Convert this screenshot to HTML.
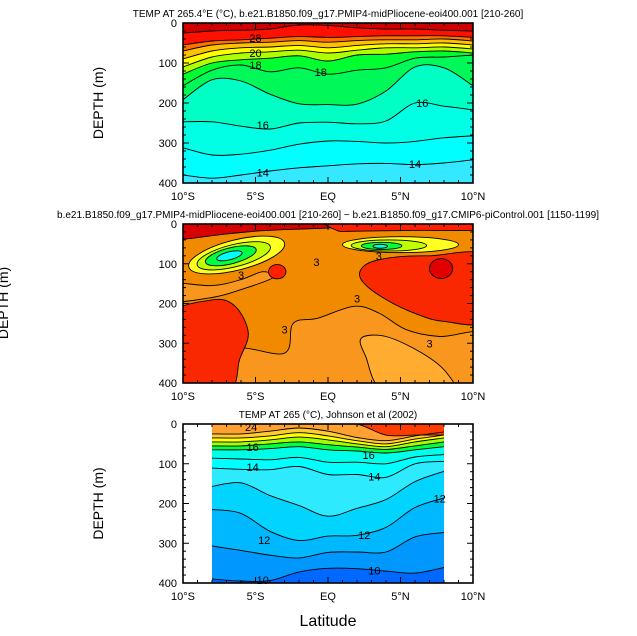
<!DOCTYPE html>
<html><head><meta charset="utf-8">
<style>
html,body{margin:0;padding:0;background:#fff;}
svg{display:block;font-family:"Liberation Sans",sans-serif;}
</style></head>
<body>
<svg id="chart" width="637" height="636" viewBox="0 0 637 636" xmlns="http://www.w3.org/2000/svg">
<defs>
<clipPath id="c1"><rect x="183" y="23" width="290" height="160"/></clipPath>
<clipPath id="c2"><rect x="183" y="224" width="290" height="159"/></clipPath>
<clipPath id="c3"><rect x="183" y="424" width="290" height="159"/></clipPath>
</defs>
</svg>
<script>
// ---------- data ----------
const lats1 = [-10,-8,-6,-4,-2,0,2,4,6,8,10];
const p1Levels = [14,15,16,17,18,19,20,22,24,26,28];
const p1Depths = [
 [380,388,380,370,362,357,352,351,354,350,342],
 [312,330,328,318,303,295,296,300,296,287,282],
 [247,247,258,265,250,248,252,245,200,208,217],
 [192,142,145,178,202,204,203,170,110,112,157],
 [157,118,105,122,112,128,118,112,88,85,80],
 [128,100,92,88,82,95,80,78,72,70,75],
 [110,85,75,72,68,75,68,62,62,60,65],
 [90,70,62,60,56,62,56,52,52,50,55],
 [70,55,50,48,44,48,44,42,42,40,45],
 [55,45,42,38,34,36,34,32,32,32,36],
 [25,20,18,15,5,6,12,15,15,18,20]
];
const p1Colors = ['#00ffff','#00ffe4','#00ffc4','#00f858','#00ff30','#b0ff00','#ffff00','#ffc000','#ff7000','#ff1000','#d00000'];
const p1Base = '#33e8ff';
const p1LabelVals = ['14','14','16','16','18','18','20','28'];
const p1LabelPos = [[-4.5,374],[6,352],[-4.5,255],[6.5,200],[-5,105],[-0.5,123],[-5,75],[-5,38]];

const lats3 = [-8,-6,-4,-2,0,2,4,6,8];
const p3Levels = [10,11,12,13,14,15,16,18,20,22,24,26];
const p3Depths = [
 [390,395,394,372,363,364,370,375,361],
 [307,318,330,337,323,322,322,284,273],
 [215,225,270,293,282,280,260,210,186],
 [157,148,180,205,232,212,190,145,119],
 [111,114,115,107,127,127,134,100,94],
 [86,88,90,84,96,96,100,83,77],
 [65,65,62,57,65,68,73,65,57],
 [55,55,50,45,52,58,64,55,45],
 [45,45,40,33,40,50,57,45,35],
 [35,35,30,22,30,42,50,38,28],
 [25,25,18,10,18,34,42,30,20],
 [0,0,0,0,0,0,28,28,28]
];
const p3Colors = ['#0098ff','#00b8ff','#00d4ff','#2eeaff','#00ffff','#00ffe8','#00ff40','#a0ff00','#ffff00','#ffcc30','#ffa030','#ff3c00'];
const p3Base = '#0068ff';
const p3LabelVals = ['10','10','12','12','12','14','14','16','16','24'];
const p3LabelPos = [[-4.5,393],[3.2,368],[-4.4,292],[2.5,279],[7.7,188],[-5.2,108],[3.2,132],[-5.2,58],[2.8,78],[-5.3,8]];

// panel 2 anomaly regions [lat, depth]
const p2Base = '#f28a00';
const p2TopLeft = [[-11,-10],[0.6,-10],[0.6,8],[-3,14],[-5,18],[-7,25],[-11,38]];
const p2TopRight = [[0.6,-10],[11,-10],[11,14],[6,16],[2,18],[0.6,16]];
const p2LightMid = [[-6.9,420],[-6.4,316],[-3,325],[-2.4,250],[-0.7,237],[1.8,207],[3.5,224],[5.4,266],[7.7,283],[11,279],[11,420]];
const p2Lightest = [[2.3,287],[4,283],[6.5,325],[8.2,375],[8.4,420],[3.9,420],[2.6,333]];
const p2LeftBand = [[-11,150],[-8,155],[-6,140],[-4.5,120],[-3.8,135],[-6,165],[-8,185],[-11,195]];
const p2RedRight = [[2.2,120],[3,95],[5,82],[7,80],[11,82],[11,240],[8,245],[6,225],[4,190],[2.5,150]];
const p2RedLeft = [[-11,237],[-8,191],[-6.4,207],[-5.5,274],[-6.1,341],[-6.9,420],[-11,420]];
const p2BlobCenters = [[-6.3,78],[-6.5,80],[-6.7,80],[-6.8,80],[5,52],[4.2,54],[3.7,55],[3.6,56],[-3.5,120],[7.8,112]];
const p2BlobSizes = [[3.4,38],[2.6,28],[1.8,20],[0.9,10],[4,20],[2.6,14],[1.4,9],[0.5,5],[0.6,18],[0.8,25]];
const p2BlobColors = ['#ffff20','#c0ff00','#00ff40','#00ffff','#ffff20','#c0ff00','#00ff40','#00ffcc','#ff2000','#e00000'];
const p2BlobRot = [-14,-14,-14,-14,0,0,0,0,0,0];

const xTickVals = [-10,-5,0,5,10];
const xTickLabels = ['10°S','5°S','EQ','5°N','10°N'];
const yTickVals = [0,100,200,300,400];

// ---------- drawing ----------
const svg = document.getElementById('chart');
const NS = 'http://www.w3.org/2000/svg';
function mk(tag, attrs, parent){const e=document.createElementNS(NS,tag);for(const k in attrs)e.setAttribute(k,attrs[k]);(parent||svg).appendChild(e);return e;}
function axisX(p,lat){return p.x0+(lat+10)/20*(p.x1-p.x0);}
function axisY(p,d){return p.y0+d/400*(p.y1-p.y0);}
function smooth(pts,closed){
  if(pts.length<2)return '';
  let s='M'+pts[0][0].toFixed(1)+','+pts[0][1].toFixed(1);
  const n=pts.length;
  for(let i=0;i<(closed?n:n-1);i++){
    const p0=pts[(i-1+n)%n],p1=pts[i],p2=pts[(i+1)%n],p3=pts[(i+2)%n];
    const a=closed||i>0?p0:p1, b=closed||i<n-2?p3:p2;
    const c1=[p1[0]+(p2[0]-a[0])/6,p1[1]+(p2[1]-a[1])/6];
    const c2=[p2[0]-(b[0]-p1[0])/6,p2[1]-(b[1]-p1[1])/6];
    s+='C'+c1[0].toFixed(1)+','+c1[1].toFixed(1)+' '+c2[0].toFixed(1)+','+c2[1].toFixed(1)+' '+p2[0].toFixed(1)+','+p2[1].toFixed(1);
  }
  return s+(closed?'Z':'');
}
const P1={x0:183,x1:473,y0:23,y1:183};
const P2={x0:183,x1:473,y0:224,y1:383};
const P3={x0:183,x1:473,y0:424,y1:583};

function bandPanel(p,lats,depths,colors,base,name,clip){
  const g=mk('g',{'clip-path':'url(#'+clip+')'});
  
  
  const xa=axisX(p,lats[0]), xb=axisX(p,lats[lats.length-1]);
  const bg=mk('rect',{x:xa,y:p.y0,width:xb-xa,height:p.y1-p.y0,fill:base},g);
  
  
  for(let k=0;k<depths.length;k++){
    const pts=lats.map((la,i)=>[axisX(p,la),axisY(p,depths[k][i])]);
    const line=smooth(pts,false);
    const path=mk('path',{d:'M'+xa+','+p.y0+' L'+pts[0][0]+','+pts[0][1]+line.replace(/^M[^C]*/,'')+' L'+xb+','+p.y0+'Z',fill:colors[k]},g);
    
    
  }
  for(let k=0;k<depths.length;k++){
    const pts=lats.map((la,i)=>[axisX(p,la),axisY(p,depths[k][i])]);
    const c=mk('path',{d:smooth(pts,false),fill:'none',stroke:'#000','stroke-width':0.9},g);
    
    
  }
}
function addLabels(p,vals,pos,name){
  vals.forEach((v,i)=>{
    const t=mk('text',{x:axisX(p,pos[i][0]),y:axisY(p,pos[i][1])+4,'font-size':11,'text-anchor':'middle',fill:'#000'});
    t.textContent=v;
    
    
  });
}
function poly(p,pts,fill,name,parent){
  const e=mk('path',{d:smooth(pts.map(q=>[axisX(p,q[0]),axisY(p,q[1])]),true),fill:fill,stroke:'#000','stroke-width':0.9},parent);
  
  
}
function axes(p,name,title,titleX,ylabel){
  const g=mk('g',{});
  
  
  for(let la=-10;la<=10;la++){
    const x=axisX(p,la), L=(la%5===0)?6:3;
    mk('line',{x1:x,y1:p.y0,x2:x,y2:p.y0+L,stroke:'#000','stroke-width':1},g);
    mk('line',{x1:x,y1:p.y1,x2:x,y2:p.y1-L,stroke:'#000','stroke-width':1},g);
  }
  for(let d=0;d<=400;d+=20){
    const y=axisY(p,d), L=(d%100===0)?6:3;
    mk('line',{x1:p.x0,y1:y,x2:p.x0+L,y2:y,stroke:'#000','stroke-width':1},g);
    mk('line',{x1:p.x1,y1:y,x2:p.x1-L,y2:y,stroke:'#000','stroke-width':1},g);
  }
  const fr=mk('rect',{x:p.x0,y:p.y0,width:p.x1-p.x0,height:p.y1-p.y0,fill:'none',stroke:'#000','stroke-width':1.6},g);
  
  
  xTickVals.forEach((v,i)=>{
    const t=mk('text',{x:axisX(p,v),y:p.y1+17,'font-size':11,'text-anchor':'middle'},g);
    t.textContent=xTickLabels[i];
    
    
  });
  yTickVals.forEach(v=>{
    const t=mk('text',{x:p.x0-6,y:axisY(p,v)+4,'font-size':11,'text-anchor':'end'},g);
    t.textContent=String(v);
    
    
  });
  const tt=mk('text',{x:titleX,y:p.y0-6,'font-size':10,'text-anchor':'middle'},g);
  tt.textContent=title;
  
  
  if(ylabel){
    const yl=mk('text',{x:0,y:0,'font-size':14,'text-anchor':'middle',transform:'translate('+ylabel+','+((p.y0+p.y1)/2)+') rotate(-90)'},g);
    yl.textContent='DEPTH (m)';
    
    
  }
}

// Panel 1
bandPanel(P1,lats1,p1Depths,p1Colors,p1Base,'panel1','c1');
addLabels(P1,p1LabelVals,p1LabelPos,'panel1');
axes(P1,'panel1','TEMP AT 265.4°E (°C), b.e21.B1850.f09_g17.PMIP4-midPliocene-eoi400.001 [210-260]',328,103);

// Panel 2
const g2=mk('g',{'clip-path':'url(#c2)'});


const bg2=mk('rect',{x:P2.x0,y:P2.y0,width:P2.x1-P2.x0,height:P2.y1-P2.y0,fill:p2Base},g2);


poly(P2,p2LightMid,'#f8961e','panel2-light-region',g2);
poly(P2,p2Lightest,'#ffac30','panel2-lightest-region',g2);
poly(P2,p2LeftBand,'#f8961e','panel2-left-band',g2);
poly(P2,p2RedLeft,'#fa2800','panel2-red-left',g2);
poly(P2,p2RedRight,'#fa2800','panel2-red-right',g2);
poly(P2,p2TopLeft,'#d80000','panel2-top-darkred',g2);
poly(P2,p2TopRight,'#ff1e00','panel2-top-red',g2);
p2BlobCenters.forEach((c,i)=>{
  const cx=axisX(P2,c[0]), cy=axisY(P2,c[1]);
  const rx=p2BlobSizes[i][0]/20*(P2.x1-P2.x0), ry=p2BlobSizes[i][1]/400*(P2.y1-P2.y0);
  const e=mk('ellipse',{cx:cx,cy:cy,rx:rx,ry:ry,fill:p2BlobColors[i],stroke:'#000','stroke-width':0.9,transform:'rotate('+p2BlobRot[i]+' '+cx+' '+cy+')'},g2);
  
  
});
addLabels(P2,['3','3','3','3','3','3'],[[-0.8,95],[-3,265],[-6,128],[2,188],[7,300],[3.5,80]],'panel2');
axes(P2,'panel2','b.e21.B1850.f09_g17.PMIP4-midPliocene-eoi400.001 [210-260] − b.e21.B1850.f09_g17.CMIP6-piControl.001 [1150-1199]',328,null);
const yl2=mk('text',{x:0,y:0,'font-size':14,'text-anchor':'middle',transform:'translate(8,303) rotate(-90)'});
yl2.textContent='DEPTH (m)';



// Panel 3
bandPanel(P3,lats3,p3Depths,p3Colors,p3Base,'panel3','c3');
addLabels(P3,p3LabelVals,p3LabelPos,'panel3');
axes(P3,'panel3','TEMP AT 265 (°C), Johnson et al (2002)',328,103);
const xl=mk('text',{x:328,y:626,'font-size':16,'text-anchor':'middle'});
xl.textContent='Latitude';


</script>
</body></html>
